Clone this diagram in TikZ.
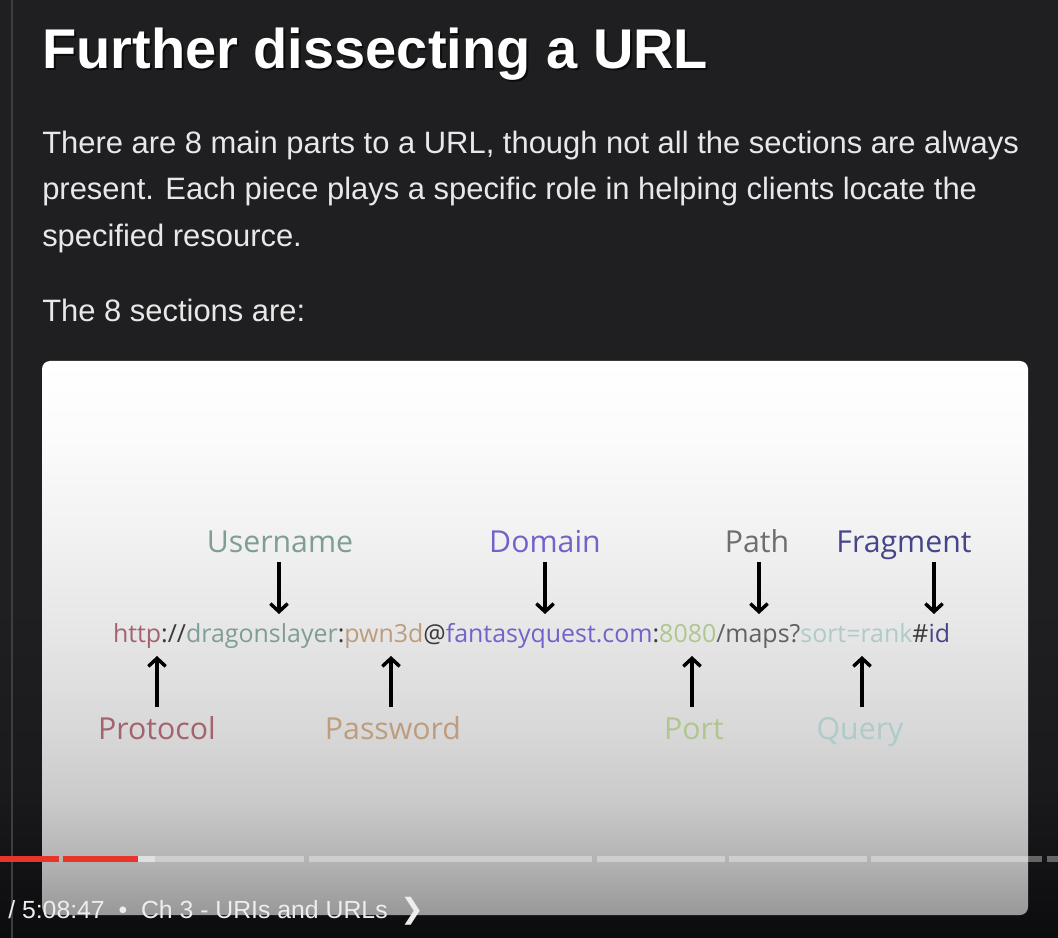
\documentclass[tikz,border=0pt]{standalone}
\usepackage{fontspec}
\setmainfont{Liberation Sans}
\newfontfamily\osans{Open Sans}
\newfontfamily\dvsans{DejaVu Sans}
\usetikzlibrary{arrows.meta,positioning}

\definecolor{bgtop}{HTML}{1F1F21}
\definecolor{bgmid}{HTML}{1A1A1C}
\definecolor{bgbot}{HTML}{0C0C0E}
\definecolor{edgeline}{HTML}{3E3E40}
\definecolor{paratext}{HTML}{E8E8E8}
\definecolor{panA}{HTML}{989898}
\definecolor{panB}{HTML}{B4B4B4}
\definecolor{panC}{HTML}{CACACA}
\definecolor{panD}{HTML}{D8D8D8}
\definecolor{panE}{HTML}{E5E5E5}
\definecolor{panF}{HTML}{F1F1F1}
\definecolor{panG}{HTML}{FBFBFB}
\definecolor{panH}{HTML}{FFFFFF}
\definecolor{ytred}{HTML}{E8352B}
% url colours
\definecolor{cproto}{HTML}{A4636C}
\definecolor{cuser}{HTML}{7F9D97}
\definecolor{cpass}{HTML}{BE9C7E}
\definecolor{cdom}{HTML}{7262C9}
\definecolor{cport}{HTML}{AFC68E}
\definecolor{cpath}{HTML}{6E6E6E}
\definecolor{cquery}{HTML}{AECACA}
\definecolor{cfrag}{HTML}{45458A}
\definecolor{csep}{HTML}{3A3A3A}

\pgfdeclareverticalshading{bgshade}{100bp}{color(0bp)=(bgbot); color(25bp)=(bgbot); color(33bp)=(bgmid); color(43bp)=(bgtop); color(100bp)=(bgtop)}
\pgfdeclareverticalshading{panelshade}{100bp}{color(0bp)=(panA); color(25bp)=(panA); color(30bp)=(panB); color(35.4bp)=(panC); color(41.7bp)=(panD); color(49.8bp)=(panE); color(58.8bp)=(panF); color(67.9bp)=(panG); color(75bp)=(panH); color(100bp)=(panH)}

\tikzset{
  para/.style={anchor=base west, inner sep=0, text=paratext, font=\fontsize{23.2}{28}\selectfont},
  lbl/.style={anchor=base, inner sep=0, font=\osans\fontsize{22.7}{27}\selectfont},
  urlpart/.style={inner sep=0, outer sep=0, font=\osans\fontsize{18.7}{22}\selectfont},
  ptr/.style={->, line width=3pt, black},
  seg/.style={fill=white, opacity=0.35}
}

\begin{document}
\begin{tikzpicture}[x=0.75pt,y=-0.75pt,>={Straight Barb[length=6pt,width=13pt,line width=2.6pt]}]
   %background
   \shade[shading=bgshade] (0,0) rectangle (1058,938);
   \useasboundingbox (0,0) rectangle (1058,938);
   \draw[line width=1.5pt,edgeline] (12,0) -- (12,938);
   %heading and text
   \node[anchor=base west,inner sep=0,text=black,opacity=0.6,font=\fontsize{42}{48}\selectfont\bfseries] (titleshadow) at (44,71) {Further dissecting a URL};
   \node[anchor=base west,inner sep=0,text=white,font=\fontsize{42}{48}\selectfont\bfseries] (title) at (42,69) {Further dissecting a URL};
   \node[para] (line1) at (42,154) {There are 8 main parts to a URL, though not all the sections are always};
   \node[para] (line2) at (42,200) {present. Each piece plays a specific role in helping clients locate the};
   \node[para] (line3) at (42,247) {specified resource.};
   \node[para] (line4) at (42,321) {The 8 sections are:};
   %panel
   \shade[shading=panelshade,rounded corners=6pt] (42,361) rectangle (1028,915);
   %url
   \node[urlpart,anchor=base west,text=cproto] (uproto) at (113,642) {http};
   \node[urlpart,base right=0pt of uproto,text=csep] (usep1) {://};
   \node[urlpart,base right=0pt of usep1,text=cuser] (uuser) {dragonslayer};
   \node[urlpart,base right=0pt of uuser,text=csep] (usep2) {:};
   \node[urlpart,base right=0pt of usep2,text=cpass] (upass) {pwn3d};
   \node[urlpart,base right=0pt of upass,text=csep] (uat) {@};
   \node[urlpart,base right=0pt of uat,text=cdom] (udom) {fantasyquest.com};
   \node[urlpart,base right=0pt of udom,text=csep] (usep3) {:};
   \node[urlpart,base right=0pt of usep3,text=cport] (uport) {8080};
   \node[urlpart,base right=0pt of uport,text=csep!80!white] (upath) {/maps?};
   \node[urlpart,base right=0pt of upath,text=cquery] (uquery) {sort=rank};
   \node[urlpart,base right=0pt of uquery,text=csep] (uhash) {\#};
   \node[urlpart,base right=0pt of uhash,text=cfrag] (ufrag) {id};
   %labels above
   \node[lbl,text=cuser] (user) at (280,552) {Username};
   \node[lbl,text=cdom] (dom) at (545,552) {Domain};
   \node[lbl,text=cpath] (path) at (757,552) {Path};
   \node[lbl,text=cfrag] (frag) at (904,552) {Fragment};
   %labels below
   \node[lbl,text=cproto] (proto) at (157,739) {Protocol};
   \node[lbl,text=cpass] (pass) at (393,739) {Password};
   \node[lbl,text=cport] (port) at (694,739) {Port};
   \node[lbl,text=cquery] (query) at (860,739) {Query};
   %arrows
   \foreach \n/\x in {user/279,dom/545,path/759,frag/934} {
      \coordinate (\n top) at (\x,562);
      \coordinate (\n tip) at (\x,614);
      \draw[ptr] (\n top) -- (\n tip);
   }
   \foreach \n/\x in {proto/157,pass/391,port/692,query/862} {
      \coordinate (\n foot) at (\x,707);
      \coordinate (\n tip) at (\x,656);
      \draw[ptr] (\n foot) -- (\n tip);
   }
   %progress bar
   \fill[ytred] (0,856) rectangle (59,862);
   \fill[ytred] (63,856) rectangle (138,862);
   \fill[white!88!black] (138,856) rectangle (155,862);
   \foreach \a/\b in {155/304,309/592,597/725,729/867,871/1042,1047/1058}
      \fill[seg] (\a,856) rectangle (\b,862);
   %chapter
   \node[anchor=base west,inner sep=0,text=white!93!black,font=\fontsize{18.6}{22}\selectfont] (chap) at (8,918) {/ 5:08:47 \ \textbullet\ \ Ch 3 - URIs and URLs};
   \node[inner sep=0,text=white!93!black,font=\dvsans\fontsize{21}{24}\selectfont,base right=9pt of chap] (chev) {❯};
\end{tikzpicture}
\end{document}
